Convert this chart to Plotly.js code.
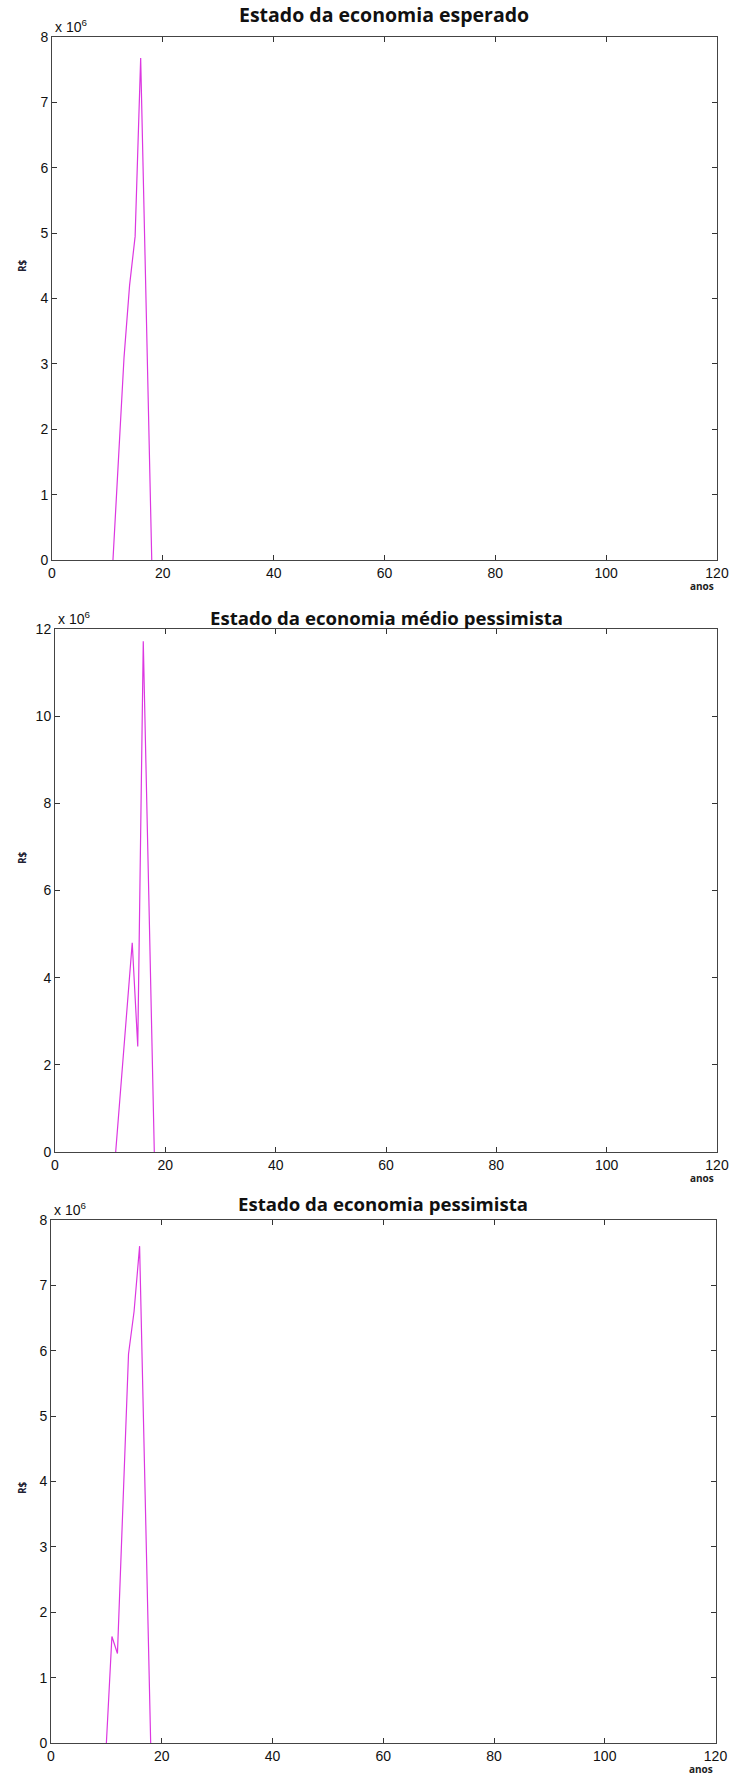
<!DOCTYPE html>
<html>
<head>
<meta charset="utf-8">
<script src="https://cdn.plot.ly/plotly-3.0.1.min.js"></script>
<style>html,body{margin:0;padding:0;background:#fff;}#chart{width:732px;height:1776px;}</style>
</head>
<body>
<div id="chart"></div>
<script>
// Anos (eixo x)
const anos1 = [11, 12, 13, 14, 15, 16, 17, 18];
const anos2 = [11, 12, 13, 14, 15, 16, 17, 18];
const anos3 = [10, 11, 12, 13, 14, 15, 16, 17, 18];
// Valores em R$ (x 10^6)
const esperado        = [0, 1.55, 3.1, 4.2, 4.95, 7.68, 3.85, 0];
const medioPessimista = [0, 1.6, 3.2, 4.8, 2.42, 11.72, 5.9, 0];
const pessimista      = [0, 1.63, 1.37, 3.7, 5.95, 6.6, 7.6, 3.8, 0];
// Títulos
const titulos = ["Estado da economia esperado", "Estado da economia médio pessimista", "Estado da economia pessimista"];
const xTicks = [0, 20, 40, 60, 80, 100, 120];

const W = 732, H = 1776;
// pixel boxes [left, right, top, bottom]
const boxes = [[52, 717, 37, 560], [55, 717, 629, 1152], [51, 715.5, 1220, 1743]];
const yMax = [8, 12, 8];
const yStep = [1, 2, 1];
const rsY = [266, 858, 1488];
const titleSize = [19.5, 18.6, 18.6];

const lineColor = 'rgb(220,55,225)';
const traces = [
  {x: anos1, y: esperado, xaxis: 'x', yaxis: 'y'},
  {x: anos2, y: medioPessimista, xaxis: 'x2', yaxis: 'y2'},
  {x: anos3, y: pessimista, xaxis: 'x3', yaxis: 'y3'}
].map(t => Object.assign(t, {type: 'scatter', mode: 'lines', line: {color: lineColor, width: 1.2}, hoverinfo: 'skip', showlegend: false}));

const layout = {
  width: W, height: H,
  margin: {l: 0, r: 0, t: 0, b: 0},
  paper_bgcolor: '#fff', plot_bgcolor: '#fff',
  showlegend: false,
  annotations: [],
  font: {family: 'Liberation Sans, Arial, sans-serif', color: '#000', size: 14}
};

boxes.forEach((b, i) => {
  const s = i === 0 ? '' : String(i + 1);
  const yt = [];
  for (let v = 0; v <= yMax[i]; v += yStep[i]) yt.push(v);
  layout['xaxis' + s] = {
    domain: [b[0] / W, b[1] / W], anchor: 'y' + s, range: [0, 120],
    tickvals: xTicks, ticktext: xTicks.map(String),
    ticks: 'inside', ticklen: 5, tickcolor: '#333', tickwidth: 1,
    showline: true, linecolor: '#444', linewidth: 1, mirror: 'ticks',
    showgrid: false, zeroline: false, fixedrange: true,
    tickfont: {size: 14, family: 'Liberation Sans, Arial, sans-serif', color: '#111'}
  };
  layout['yaxis' + s] = {
    domain: [1 - b[3] / H, 1 - b[2] / H], anchor: 'x' + s, range: [0, yMax[i]],
    tickvals: yt, ticktext: yt.map(String),
    ticks: 'inside', ticklen: 5, tickcolor: '#333', tickwidth: 1,
    showline: true, linecolor: '#444', linewidth: 1, mirror: 'ticks',
    showgrid: false, zeroline: false, fixedrange: true,
    tickfont: {size: 14, family: 'Liberation Sans, Arial, sans-serif', color: '#111'}
  };
  const cx = (b[0] + b[1]) / 2;
  const titleOff = [22, 12, 17][i];
  layout.annotations.push({
    text: '<b>' + titulos[i] + '</b>', xref: 'paper', yref: 'paper',
    x: cx / W, y: 1 - (b[2] - titleOff) / H, xanchor: 'center', yanchor: 'middle',
    showarrow: false, font: {size: titleSize[i], family: 'Open Sans, sans-serif', color: '#111'}
  });
  layout.annotations.push({
    text: 'x 10<sup>6</sup>', xref: 'paper', yref: 'paper',
    x: (b[0] + 1) / W, y: 1 - (b[2] - 11) / H, xanchor: 'left', yanchor: 'middle',
    showarrow: false, font: {size: 14, family: 'Liberation Sans, Arial, sans-serif', color: '#111'}
  });
  layout.annotations.push({
    text: '<b>R$</b>', xref: 'paper', yref: 'paper', textangle: -90,
    x: 22 / W, y: 1 - rsY[i] / H, xanchor: 'center', yanchor: 'middle',
    showarrow: false, font: {size: 10, family: 'Open Sans, sans-serif', color: '#223'}
  });
  layout.annotations.push({
    text: '<b>anos</b>', xref: 'paper', yref: 'paper',
    x: (b[1] - 15) / W, y: 1 - (b[3] + 26) / H, xanchor: 'center', yanchor: 'middle',
    showarrow: false, font: {size: 10, family: 'Open Sans, sans-serif', color: '#222'}
  });
});

Plotly.newPlot('chart', traces, layout, {staticPlot: true, displayModeBar: false});
</script>
</body>
</html>
